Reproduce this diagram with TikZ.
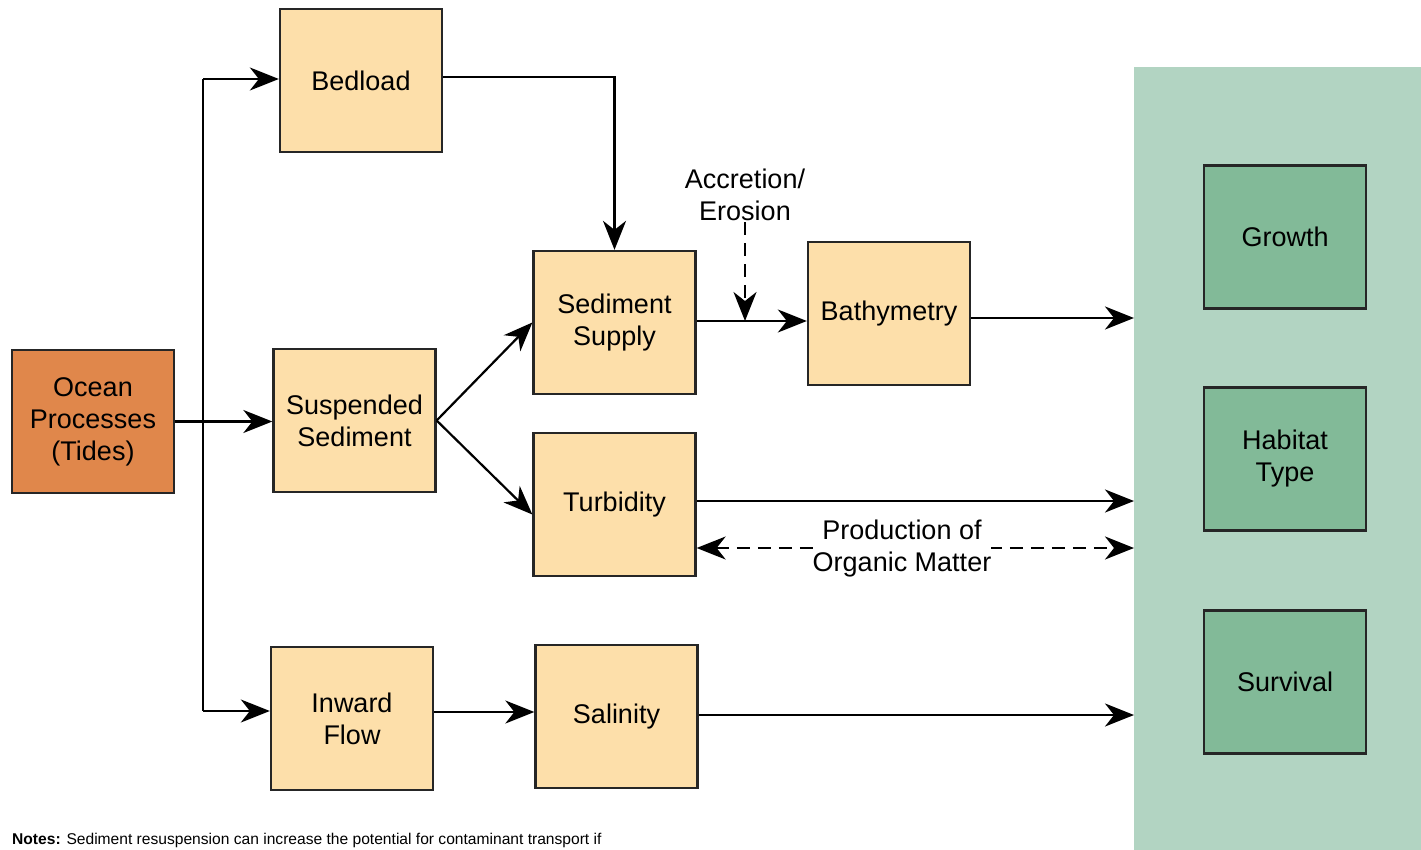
\documentclass[tikz,border=0pt]{standalone}
\usepackage{fontspec}
\setmainfont{Liberation Sans}
\usetikzlibrary{arrows.meta,calc}
\definecolor{lorange}{HTML}{FDDFAA}
\definecolor{dorange}{HTML}{E0874B}
\definecolor{panelgreen}{HTML}{B2D4C2}
\definecolor{boxgreen}{HTML}{82BA98}
\begin{document}
\begin{tikzpicture}[x=1pt,y=-1pt,
  box/.style={draw=black!85, line width=2.3pt, fill=lorange, minimum width=162pt, minimum height=143pt, inner sep=0pt, align=center, font=\fontsize{27}{32}\selectfont},
  obox/.style={box, fill=dorange},
  gbox/.style={box, fill=boxgreen},
  tip/.tip={Stealth[length=29pt,width=23pt,inset=9pt]},
  conn/.style={line width=2.2pt, -tip},
  dconn/.style={conn, dash pattern=on 13pt off 8pt},
  lbl/.style={align=center, font=\fontsize{27}{32}\selectfont, inner sep=1pt}]
\useasboundingbox (0,0) rectangle (1421,850);
\fill[white] (0,0) rectangle (1421,850);
\node[fill=panelgreen, minimum width=287pt, minimum height=783pt, inner sep=0pt, anchor=north west] (panel) at (1134,67) {};
% nodes
\node[obox] (ocean) at (93,421.5) {Ocean\\Processes\\(Tides)};
\node[box] (bed) at (361,80.5) {Bedload};
\node[box] (susp) at (354.5,420.5) {Suspended\\Sediment};
\node[box] (inward) at (352,718.5) {Inward\\Flow};
\node[box] (supply) at (614.5,322.5) {Sediment\\Supply};
\node[box] (turb) at (614.5,504.5) {Turbidity};
\node[box] (sal) at (616.5,716.5) {Salinity};
\node[box] (bathy) at (889,313.5) {Bathymetry};
\node[gbox] (growth) at (1285,237) {Growth};
\node[gbox] (habitat) at (1285,459) {Habitat\\Type};
\node[gbox] (surv) at (1285,682) {Survival};
% connectors
\draw[conn] (ocean.east) -- (ocean.east -| susp.west);
\draw[line width=2.2pt] (203,79) -- (203,711);
\draw[conn] (203,79) -- (bed.west |- 203,79);
\draw[conn] (203,711) -- (inward.west |- 203,711);
\draw[conn] ([yshift=3.5pt]bed.east) -| (supply.north);
\draw[conn] (susp.east) -- (supply.west);
\draw[conn] (susp.east) -- ([yshift=-10pt]turb.west);
\draw[conn] ([yshift=1.5pt]supply.east) -- ([yshift=-7.5pt]bathy.west);
\node[lbl] (accr) at (745,195) {Accretion/\\Erosion};
\coordinate (meet) at (745,321);
\draw[dconn] (accr.south) -- (meet);
\draw[conn] ([yshift=-4.5pt]bathy.east) -- ([yshift=-4.5pt]bathy.east -| panel.west);
\draw[conn] ([yshift=3.5pt]turb.east) -- ([yshift=3.5pt]turb.east -| panel.west);
\draw[tip-tip, line width=2.2pt, dash pattern=on 13pt off 8pt] ([yshift=-43.5pt]turb.east) -- ([yshift=-43.5pt]turb.east -| panel.west);
\node[lbl, fill=white, inner sep=0pt] (prod) at (902,549) {Production of\\Organic Matter};
\draw[conn] ([yshift=6.5pt]inward.east) -- ([yshift=4.5pt]sal.west);
\draw[conn] ([yshift=1.5pt]sal.east) -- ([yshift=1.5pt]sal.east -| panel.west);
\node[anchor=base west, inner sep=0pt, font=\fontsize{15.6}{18}\selectfont] (notes) at (12,844) {\textbf{Notes:} Sediment resuspension can increase the potential for contaminant transport if};
\end{tikzpicture}
\end{document}
